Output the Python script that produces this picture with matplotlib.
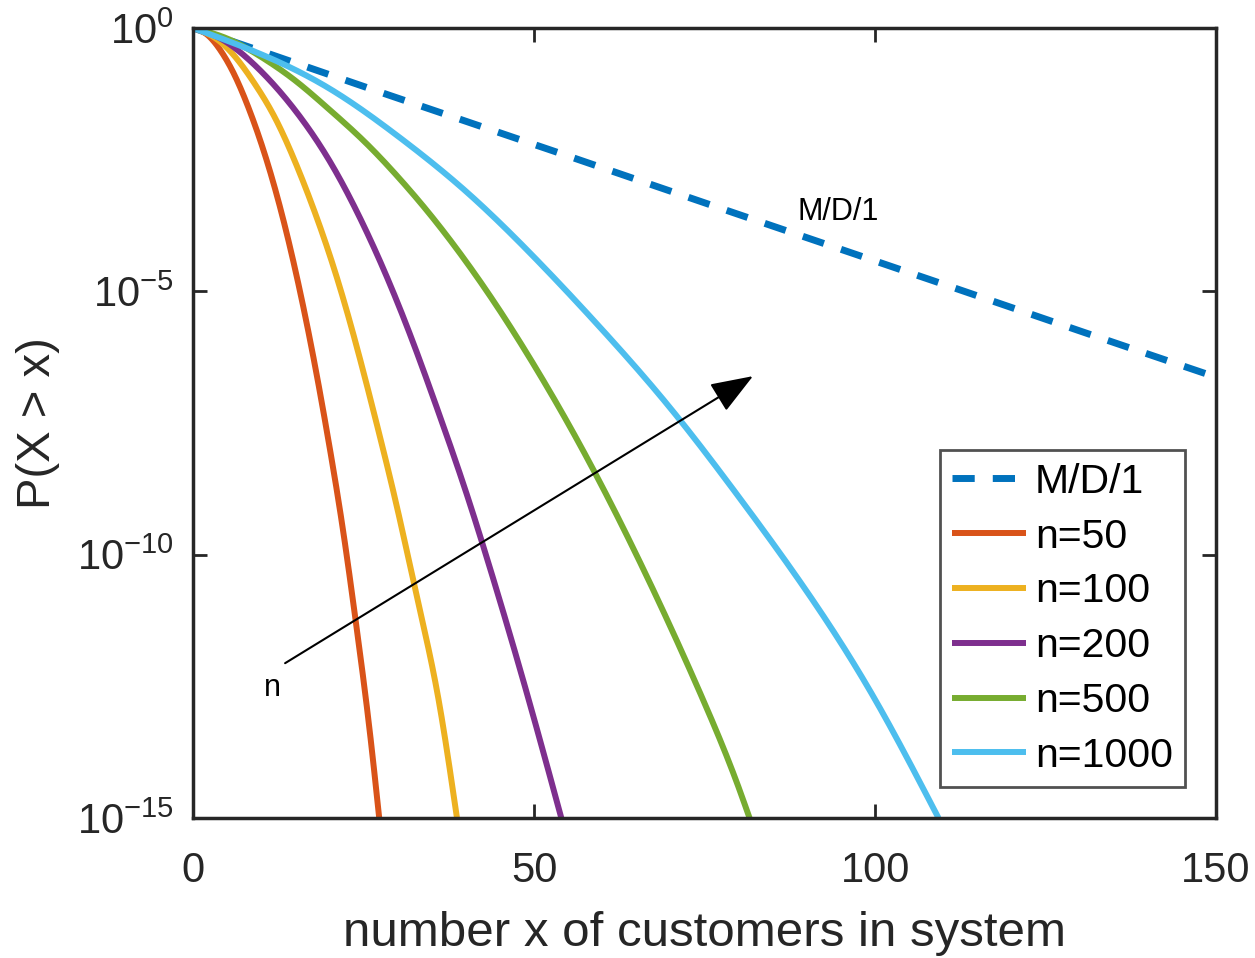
import matplotlib
matplotlib.use("Agg")
import matplotlib.pyplot as plt
import numpy as np

plt.rcParams["font.family"] = ["Liberation Sans", "DejaVu Sans"]
plt.rcParams["mathtext.fontset"] = "custom"
plt.rcParams["mathtext.rm"] = "Liberation Sans"
plt.rcParams["mathtext.it"] = "Liberation Sans"

# values, given as log10 P(X > x)
md1_x = [0, 10, 25, 50, 75, 100, 125, 150]
md1_log = [0, -0.44, -1.11, -2.21, -3.32, -4.42, -5.53, -6.63]

n50_x = [0, 2, 4, 6, 8, 10, 12, 14, 16, 18, 20, 22, 24, 26, 27.3]
n50_log = [0, -0.12, -0.42, -0.87, -1.47, -2.19, -3.04, -4.04, -5.19, -6.49, -7.94, -9.54, -11.4, -13.45, -15]

n100_x = [0, 3, 6, 9, 12, 15, 18, 21, 24, 27, 30, 33, 36, 38.7]
n100_log = [0, -0.17, -0.52, -1.05, -1.7, -2.55, -3.55, -4.7, -6.05, -7.55, -9.15, -10.9, -12.75, -15]

n200_x = [0, 4, 8, 12, 16, 20, 24, 28, 32, 36, 40, 44, 48, 52, 54]
n200_log = [0, -0.2, -0.58, -1.1, -1.74, -2.52, -3.48, -4.6, -5.88, -7.3, -8.8, -10.45, -12.2, -14.05, -15]

n500_x = [0, 5, 10, 15, 20, 25, 30, 35, 40, 45, 50, 55, 60, 65, 70, 75, 80, 81.6]
n500_log = [0, -0.2, -0.55, -1.0, -1.55, -2.14, -2.82, -3.58, -4.43, -5.37, -6.4, -7.51, -8.71, -10.0, -11.37, -12.82, -14.42, -15]

n1000_x = [0, 10, 20, 30, 40, 50, 60, 70, 80, 90, 100, 109.3]
n1000_log = [0, -0.5, -1.15, -2.05, -3.1, -4.35, -5.73, -7.22, -8.9, -10.7, -12.75, -15]

series = [
    ("n=50", n50_x, n50_log, "#D95319"),
    ("n=100", n100_x, n100_log, "#EDB120"),
    ("n=200", n200_x, n200_log, "#7E2F8E"),
    ("n=500", n500_x, n500_log, "#77AC30"),
    ("n=1000", n1000_x, n1000_log, "#4DBEEE"),
]


def spline(x, logy, num=500):
    # natural cubic spline through the read points, just for drawing smooth lines
    x = np.asarray(x, float)
    y = np.asarray(logy, float)
    n = len(x)
    h = np.diff(x)
    A = np.zeros((n, n))
    b = np.zeros(n)
    A[0, 0] = A[-1, -1] = 1
    for i in range(1, n - 1):
        A[i, i - 1] = h[i - 1]
        A[i, i] = 2 * (h[i - 1] + h[i])
        A[i, i + 1] = h[i]
        b[i] = 3 * ((y[i + 1] - y[i]) / h[i] - (y[i] - y[i - 1]) / h[i - 1])
    c = np.linalg.solve(A, b)
    xs = np.linspace(x[0], x[-1], num)
    k = np.clip(np.searchsorted(x, xs) - 1, 0, n - 2)
    d = xs - x[k]
    bb = (y[k + 1] - y[k]) / h[k] - h[k] * (2 * c[k] + c[k + 1]) / 3
    dd = (c[k + 1] - c[k]) / (3 * h[k])
    ys = y[k] + bb * d + c[k] * d ** 2 + dd * d ** 3
    return xs, 10.0 ** ys


fig = plt.figure(figsize=(12.55, 9.58), dpi=100)
ax = fig.add_axes([0.1538, 0.1461, 0.969 - 0.1538, 0.9708 - 0.1461])

mx, my = spline(md1_x, md1_log)
ax.plot(mx, my, color="#0072BD", lw=5, dashes=(3.2, 2.6), label="M/D/1")
for name, xs, ls, col in series:
    px, py = spline(xs, ls)
    ax.plot(px, py, color=col, lw=4.3, label=name, solid_capstyle="butt")

ax.set_yscale("log")
ax.set_xlim(0, 150)
ax.set_ylim(1e-15, 1e0)
ax.set_xticks([0, 50, 100, 150])
ax.set_yticks([1e0, 1e-5, 1e-10, 1e-15])
ax.set_yticklabels([r"$\mathregular{10^{0}}$", r"$\mathregular{10^{-5}}$",
                    r"$\mathregular{10^{-10}}$", r"$\mathregular{10^{-15}}$"])
ax.minorticks_off()
ax.tick_params(which="both", direction="in", top=True, right=True, length=10, width=2,
               color="#262626", labelsize=30, labelcolor="#262626")
ax.tick_params(axis="x", pad=24)
ax.tick_params(axis="y", pad=14)
for s in ax.spines.values():
    s.set_linewidth(2.5)
    s.set_color("#262626")

ax.set_xlabel("number x of customers in system", fontsize=35.5, color="#262626", labelpad=14)
ax.set_ylabel("P(X > x)", fontsize=34, color="#262626", labelpad=12)

ax.annotate("", xy=(82.1, 10 ** -6.61), xytext=(13.5, 10 ** -12.06),
            arrowprops=dict(arrowstyle="-|>,head_length=1.2,head_width=0.45", color="black", lw=1.5,
                            shrinkA=0, shrinkB=0, mutation_scale=22))
ax.text(11.7, 10 ** -12.53, "n", fontsize=22, ha="center", va="center")
ax.text(94.6, 10 ** -3.49, "M/D/1", fontsize=22, ha="center", va="center")

leg = ax.legend(loc="lower right", bbox_to_anchor=(0.9697, 0.0392), fontsize=29.5, frameon=True,
                fancybox=False, edgecolor="#262626", handlelength=1.8, handletextpad=0.22,
                labelspacing=0.41, borderpad=0.3, borderaxespad=0)
leg.get_frame().set_linewidth(2)

fig.savefig("out.png", dpi=100)
